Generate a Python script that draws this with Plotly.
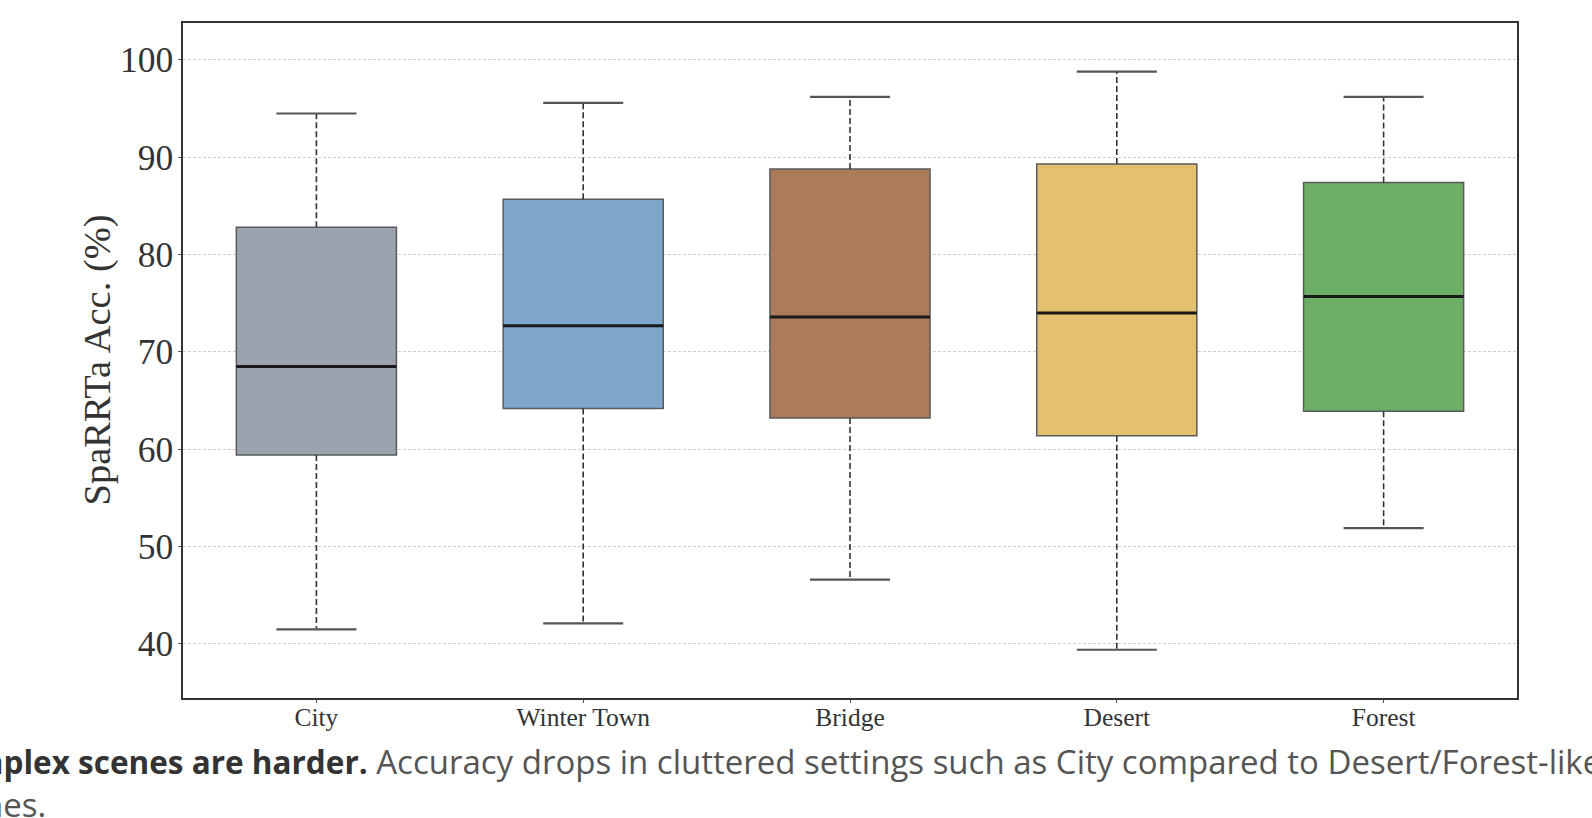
import plotly.graph_objects as go

categories = ["City", "Winter Town", "Bridge", "Desert", "Forest"]
lower_whisker = [41.5, 42.1, 46.6, 39.4, 51.9]
q1_values = [59.4, 64.2, 63.2, 61.4, 63.9]
median_values = [68.5, 72.7, 73.6, 74.0, 75.7]
q3_values = [82.8, 85.7, 88.8, 89.3, 87.4]
upper_whisker = [94.5, 95.6, 96.2, 98.8, 96.2]
fill_colors = ["#9AA3AE", "#7EA6CA", "#AB7B5B", "#E3C16E", "#6DAE67"]
y_ticks = [40, 50, 60, 70, 80, 90, 100]

BOX_W = 0.6
CAP_W = 0.3
serif = "Liberation Serif, Times New Roman, serif"
sans = "Open Sans, sans-serif"

fig = go.Figure()
pos = list(range(len(categories)))

for i, cat in enumerate(categories):
    fig.add_trace(go.Box(
        x=[pos[i]], q1=[q1_values[i]], median=[median_values[i]], q3=[q3_values[i]],
        lowerfence=[q1_values[i]], upperfence=[q3_values[i]],
        width=BOX_W, whiskerwidth=0, fillcolor=fill_colors[i],
        line=dict(color="#5a5a5a", width=1.5), name=cat, boxpoints=False,
        showlegend=False, hoverinfo="skip",
    ))

# dashed whiskers
wx, wy = [], []
for i in pos:
    wx += [i, i, None, i, i, None]
    wy += [q3_values[i], upper_whisker[i], None, q1_values[i], lower_whisker[i], None]
fig.add_trace(go.Scatter(x=wx, y=wy, mode="lines", line=dict(color="#333333", width=1.6, dash="6px,3px"),
                         showlegend=False, hoverinfo="skip"))

# caps
cx, cy = [], []
for i in pos:
    cx += [i - CAP_W / 2, i + CAP_W / 2, None, i - CAP_W / 2, i + CAP_W / 2, None]
    cy += [upper_whisker[i], upper_whisker[i], None, lower_whisker[i], lower_whisker[i], None]
fig.add_trace(go.Scatter(x=cx, y=cy, mode="lines", line=dict(color="#555555", width=2.2),
                         showlegend=False, hoverinfo="skip"))

# medians
mx, my = [], []
for i in pos:
    mx += [i - BOX_W / 2, i + BOX_W / 2, None]
    my += [median_values[i], median_values[i], None]
fig.add_trace(go.Scatter(x=mx, y=my, mode="lines", line=dict(color="#1a1a1a", width=3),
                         showlegend=False, hoverinfo="skip"))

fig.update_layout(
    width=1592, height=818,
    margin=dict(l=183, r=75, t=23, b=120),
    paper_bgcolor="white", plot_bgcolor="white",
    xaxis=dict(
        range=[-0.5, 4.5], tickvals=pos, ticktext=categories,
        tickfont=dict(family=serif, size=25.5, color="#333333"),
        showline=True, linecolor="#333333", linewidth=1.5, mirror=True,
        ticks="outside", ticklen=3, tickcolor="#555555", showgrid=False, zeroline=False,
        ticklabelstandoff=-7,
    ),
    yaxis=dict(
        range=[34.44, 103.8], tickvals=y_ticks,
        tickfont=dict(family=serif, size=35.5, color="#333333"),
        showline=True, linecolor="#333333", linewidth=1.5, mirror=True,
        ticks="outside", ticklen=3, tickcolor="#555555", ticklabelstandoff=-2,
        showgrid=True, gridcolor="#cfcfcf", gridwidth=1, griddash="3px,2px", zeroline=False,
    ),
    annotations=[
        dict(xref="paper", yref="paper", x=-0.0641, y=0.5007, xanchor="center", yanchor="middle",
             showarrow=False, textangle=-90, text="SpaRRTa Acc. (%)",
             font=dict(family=serif, size=38.5, color="#333333")),
        dict(xref="paper", yref="paper", x=-0.1886, y=-0.0948, xanchor="left", yanchor="middle",
             showarrow=False, align="left",
             text="<b><span style='color:#333333;font-size:31.5px'>Complex scenes are harder.</span></b> Accuracy drops in cluttered settings such as City compared to Desert/Forest-like",
             font=dict(family=sans, size=33, color="#555555")),
        dict(xref="paper", yref="paper", x=-0.1886, y=-0.1585, xanchor="left", yanchor="middle",
             showarrow=False, align="left", text="scenes.",
             font=dict(family=sans, size=33, color="#555555")),
    ],
)

fig.write_html("out.html", config={"displayModeBar": False},
               post_script="document.body.style.margin='0';document.body.style.overflow='hidden';")
